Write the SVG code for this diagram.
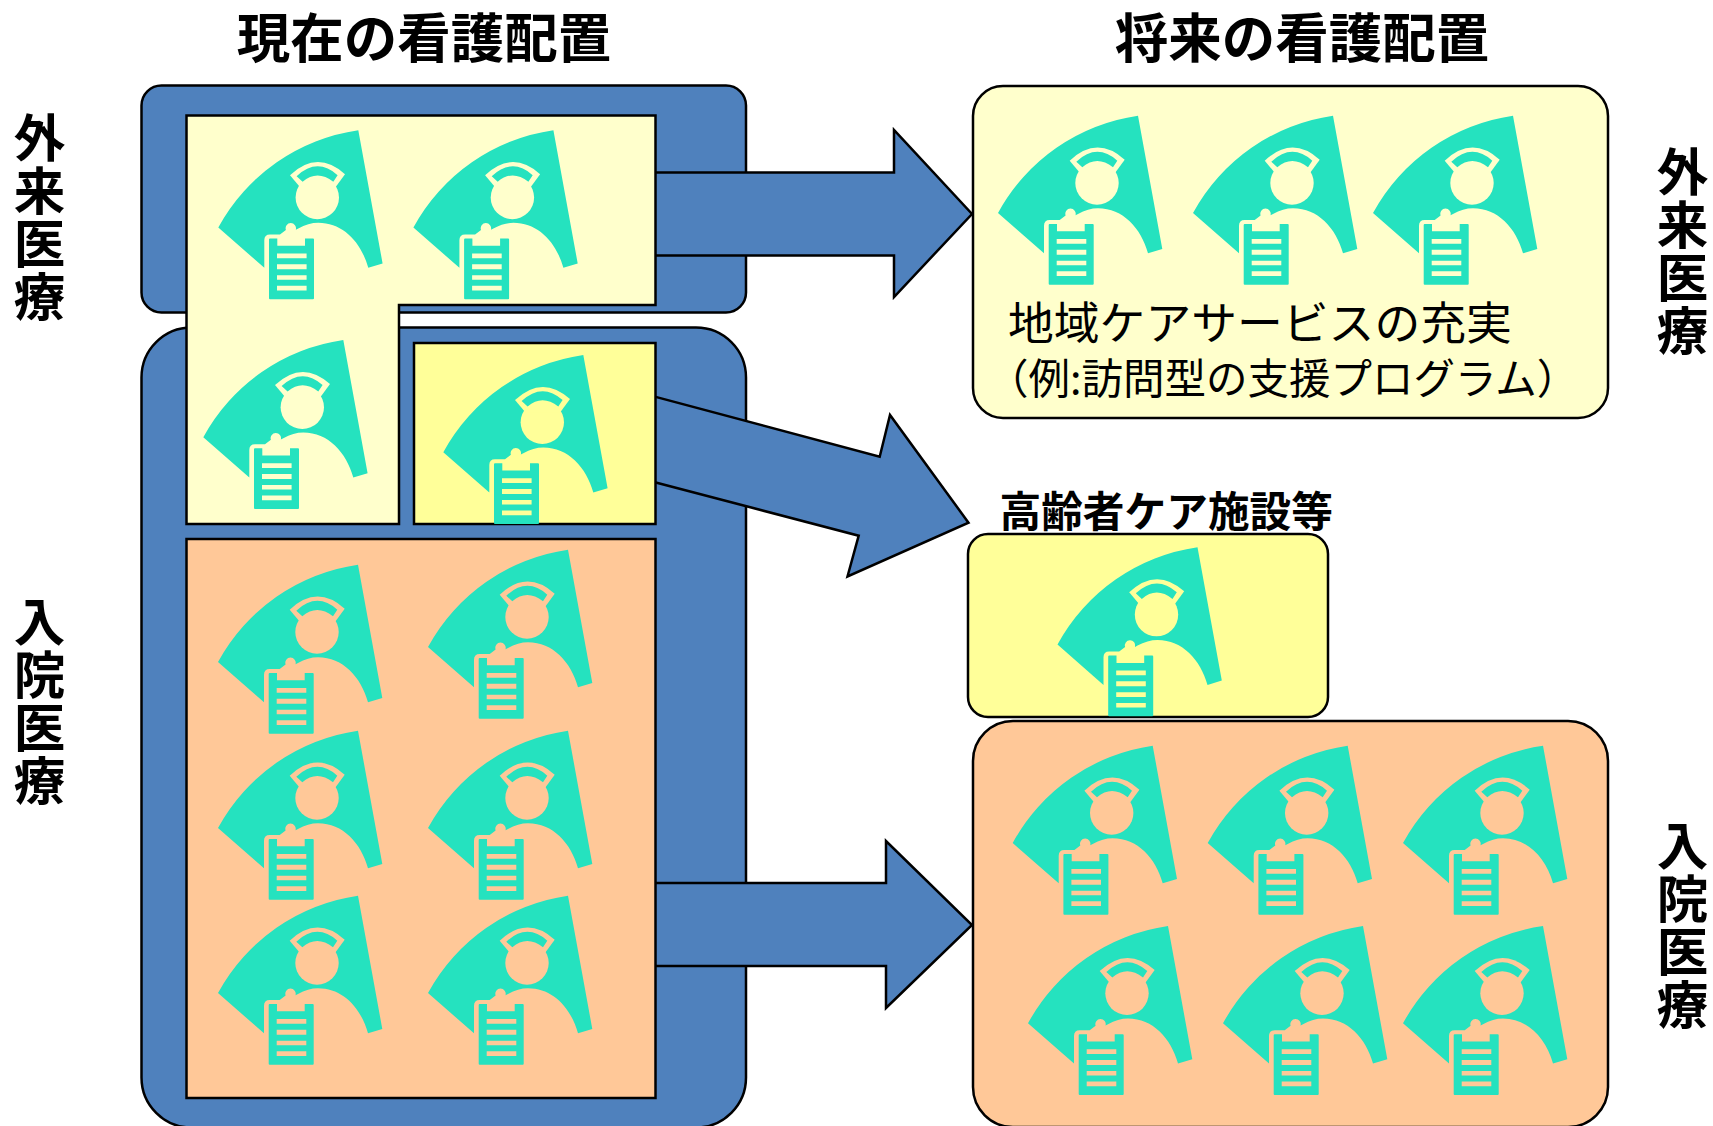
<svg xmlns="http://www.w3.org/2000/svg" xmlns:xlink="http://www.w3.org/1999/xlink" width="1713" height="1126" viewBox="0 0 1713 1126">
<style>
text{font-family:"Noto Sans CJK JP","Liberation Sans",sans-serif;fill:#000}
.b{font-weight:700}
.t{font-size:53.5px;font-weight:700}
.v{font-size:51.5px;font-weight:700}
.box{stroke:#000;stroke-width:2.5}
.blue{fill:#4F81BD}
.cream{fill:#FFFFCC;color:#FFFFCC}
.yellow{fill:#FFFF99;color:#FFFF99}
.orange{fill:#FFC898;color:#FFC898}
</style>
<defs>
<g id="nurse">
<path fill="#25E2BF" d="M0 0A190 190 0 0 1 140 -97.3L164.3 36L150 40.3C143 15 125 -4.7 100 -4.7Q90 -4.7 80 1L77.5 2.3A5.2 5.2 0 1 0 67.6 2.5L61.7 7H51.7Q46 7 46 12.7V40.3Z"/>
<circle cx="99" cy="-30" r="21.7" fill="currentColor"/>
<path fill="currentColor" d="M71.7 -52.3Q99 -78 126.7 -53.3L117 -40H82Z"/>
<path fill="#25E2BF" d="M78.3 -51.3Q99 -70.500 119.300 -52.300L115 -45.700Q99 -58.500 84.300 -45.700Z"/>
<path fill="#25E2BF" d="M51.700 11H59V18.300H86.700V11H94.700Q95.700 11 95.700 12V70.700Q95.700 71.700 94.700 71.700H51.700Q50.700 71.700 50.700 70.700V12Q50.700 11 51.700 11Z"/>
<path fill="currentColor" d="M58.700 26H88.300V30.700H58.700ZM58.700 36.700H88.300V41.700H58.700ZM58.700 47.700H88.300V52.300H58.700ZM58.700 58.300H88.300V63H58.700Z"/>
</g>
</defs>
<g id="current-outpatient-frame"><rect class="box blue" x="141.500" y="85.500" width="604.500" height="227" rx="20"/></g>
<g id="current-inpatient-frame"><rect class="box blue" x="141.500" y="327.500" width="604.500" height="800" rx="50"/></g>
<g id="connectors" class="box blue">
<path id="arrow-outpatient" d="M650 172.600H894V130L972 214L894 297V255.600H650Z"/>
<path id="arrow-care" d="M650 395.400L879.700 456.700L890 415L968.500 522.700L847.500 576.500L858.700 535.700L650 481Z"/>
<path id="arrow-inpatient" d="M650 883H886V841L972 925L886 1008V966H650Z"/>
</g>
<g id="current-outpatient" class="cream">
<path class="box" d="M186.500 115.500H655.500V305H399V524H186.500Z"/>
<use xlink:href="#nurse" href="#nurse" x="218.300" y="227.500"/>
<use xlink:href="#nurse" href="#nurse" x="413.400" y="227.500"/>
<use xlink:href="#nurse" href="#nurse" x="203.300" y="437.300"/>
</g>
<g id="current-care" class="yellow">
<rect class="box" x="414" y="343" width="241.500" height="181"/>
<use xlink:href="#nurse" href="#nurse" x="443.300" y="452.300"/>
</g>
<g id="current-inpatient" class="orange">
<rect class="box" x="186.500" y="539" width="469" height="559"/>
<use xlink:href="#nurse" href="#nurse" x="218" y="662"/>
<use xlink:href="#nurse" href="#nurse" x="428" y="647"/>
<use xlink:href="#nurse" href="#nurse" x="218" y="828"/>
<use xlink:href="#nurse" href="#nurse" x="428" y="828"/>
<use xlink:href="#nurse" href="#nurse" x="218" y="993"/>
<use xlink:href="#nurse" href="#nurse" x="428" y="993"/>
</g>
<g id="future-outpatient" class="cream">
<rect class="box" x="973" y="86" width="635" height="332" rx="30"/>
<use xlink:href="#nurse" href="#nurse" x="998" y="213"/>
<use xlink:href="#nurse" href="#nurse" x="1193" y="213"/>
<use xlink:href="#nurse" href="#nurse" x="1373" y="213"/>
<text x="1008" y="340" font-size="45.800">地域ケアサービスの充実</text>
<text x="987" y="394" font-size="41.500">（例:訪問型の支援プログラム）</text>
</g>
<g id="future-care" class="yellow">
<rect class="box" x="968" y="534" width="360" height="183" rx="20"/>
<use xlink:href="#nurse" href="#nurse" x="1057.500" y="644.600"/>
<text class="b" x="999.500" y="527" font-size="41.700">高齢者ケア施設等</text>
</g>
<g id="future-inpatient" class="orange">
<rect class="box" x="973" y="721" width="635" height="406" rx="40"/>
<use xlink:href="#nurse" href="#nurse" x="1012.700" y="843"/>
<use xlink:href="#nurse" href="#nurse" x="1207.700" y="843"/>
<use xlink:href="#nurse" href="#nurse" x="1403" y="843"/>
<use xlink:href="#nurse" href="#nurse" x="1028" y="1023.300"/>
<use xlink:href="#nurse" href="#nurse" x="1223" y="1023.300"/>
<use xlink:href="#nurse" href="#nurse" x="1403" y="1023.300"/>
</g>
<g id="labels" text-anchor="middle">
<text class="t" x="424" y="58">現在の看護配置</text>
<text class="t" x="1302" y="58">将来の看護配置</text>
<text class="v" x="39.500 39.500 39.500 39.500" y="157 210 263 316">外来医療</text>
<text class="v" x="39.500 39.500 39.500 39.500" y="641 694 747 800">入院医療</text>
<text class="v" x="1682.500 1682.500 1682.500 1682.500" y="191 244 297 350">外来医療</text>
<text class="v" x="1682.500 1682.500 1682.500 1682.500" y="865 918 971 1024">入院医療</text>
</g>
</svg>
